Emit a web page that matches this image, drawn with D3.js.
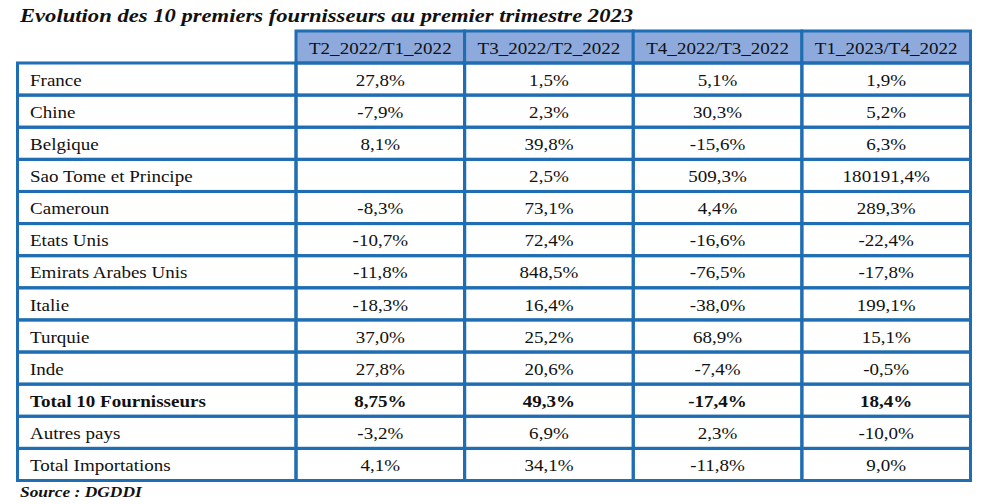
<!DOCTYPE html>
<html>
<head>
<meta charset="utf-8">
<script src="https://cdn.jsdelivr.net/npm/d3@7"></script>
<style>
  body { margin: 0; background: #fff; }
  svg text { font-family: "Liberation Serif", "DejaVu Serif", serif; fill: #111; }
</style>
</head>
<body>
<svg id="chart" width="986" height="504"></svg>
<script>
const title = 'Evolution des 10 premiers fournisseurs au premier trimestre 2023'
const source = 'Source : DGDDI'
const periods = ['T2_2022/T1_2022', 'T3_2022/T2_2022', 'T4_2022/T3_2022', 'T1_2023/T4_2022']
const countries = ['France', 'Chine', 'Belgique', 'Sao Tome et Principe', 'Cameroun', 'Etats Unis',
  'Emirats Arabes Unis', 'Italie', 'Turquie', 'Inde', 'Total 10 Fournisseurs', 'Autres pays', 'Total Importations']
const t2_t1 = ['27,8%', '-7,9%', '8,1%', '', '-8,3%', '-10,7%', '-11,8%', '-18,3%', '37,0%', '27,8%', '8,75%', '-3,2%', '4,1%']
const t3_t2 = ['1,5%', '2,3%', '39,8%', '2,5%', '73,1%', '72,4%', '848,5%', '16,4%', '25,2%', '20,6%', '49,3%', '6,9%', '34,1%']
const t4_t3 = ['5,1%', '30,3%', '-15,6%', '509,3%', '4,4%', '-16,6%', '-76,5%', '-38,0%', '68,9%', '-7,4%', '-17,4%', '2,3%', '-11,8%']
const t1_t4 = ['1,9%', '5,2%', '6,3%', '180191,4%', '289,3%', '-22,4%', '-17,8%', '199,1%', '15,1%', '-0,5%', '18,4%', '-10,0%', '9,0%']
const boldRows = ['Total 10 Fournisseurs']

const series = [t2_t1, t3_t2, t4_t3, t1_t4]
const border = '#1f6db2'
const headFill = '#8eaadc'
const stretch = 1.12   // the scan is a bit wider than Liberation Serif

const svg = d3.select('#chart')
const left = 17.5, labelRight = 296, right = 970.5
const headTop = 31, headBottom = 63, bottom = 480.5

const x = d3.scaleBand().domain(periods).range([labelRight, right])
const y = d3.scaleBand().domain(countries).range([headBottom, bottom])

function place(px, py, k) {
  return 'translate(' + px + ',' + py + ') scale(' + k + ',1)'
}

svg.append('text')
  .attr('transform', place(20, 22, 1.16))
  .attr('font-size', 19.5).attr('font-weight', 'bold').attr('font-style', 'italic')
  .text(title)

// header cells
svg.selectAll('.head').data(periods).join('rect')
  .attr('x', d => x(d)).attr('y', headTop)
  .attr('width', x.bandwidth()).attr('height', headBottom - headTop)
  .attr('fill', headFill).attr('stroke', border).attr('stroke-width', 3)
svg.selectAll('.headText').data(periods).join('text')
  .attr('transform', d => place(x(d) + x.bandwidth() / 2, (headTop + headBottom) / 2 + 1, stretch))
  .attr('text-anchor', 'middle').attr('dominant-baseline', 'central')
  .attr('font-size', 17)
  .text(d => d)

// body grid
const rows = svg.append('g')
rows.selectAll('rect.label').data(countries).join('rect')
  .attr('x', left).attr('y', d => y(d))
  .attr('width', labelRight - left).attr('height', y.bandwidth())
  .attr('fill', 'none').attr('stroke', border).attr('stroke-width', 3)
periods.forEach(function(p, i) {
  rows.selectAll('rect.c' + i).data(countries).join('rect')
    .attr('x', x(p)).attr('y', d => y(d))
    .attr('width', x.bandwidth()).attr('height', y.bandwidth())
    .attr('fill', 'none').attr('stroke', border).attr('stroke-width', 3)
})

rows.selectAll('text.label').data(countries).join('text')
  .attr('transform', d => place(30, y(d) + y.bandwidth() / 2 + 1, stretch))
  .attr('dominant-baseline', 'central')
  .attr('font-size', 17)
  .attr('font-weight', d => boldRows.includes(d) ? 'bold' : 'normal')
  .text(d => d)

periods.forEach(function(p, i) {
  rows.selectAll('text.v' + i).data(series[i]).join('text')
    .attr('transform', (d, j) => place(x(p) + x.bandwidth() / 2, y(countries[j]) + y.bandwidth() / 2 + 1, stretch))
    .attr('text-anchor', 'middle').attr('dominant-baseline', 'central')
    .attr('font-size', 17)
    .attr('font-weight', (d, j) => boldRows.includes(countries[j]) ? 'bold' : 'normal')
    .text(d => d)
})

svg.append('text')
  .attr('transform', place(20, 497, 1.16))
  .attr('font-size', 15).attr('font-weight', 'bold').attr('font-style', 'italic')
  .text(source)
</script>
</body>
</html>
